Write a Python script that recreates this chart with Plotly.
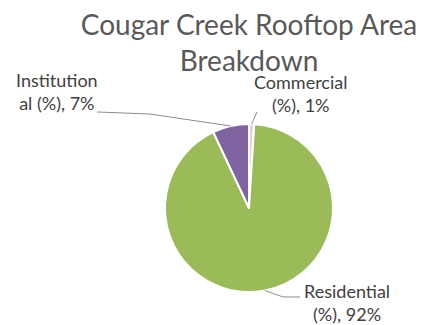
import math
import plotly.graph_objects as go

# Rooftop area shares by land use (clockwise from 12 o'clock)
categories = ["Commercial (%)", "Residential (%)", "Institutional (%)"]
shares = [1, 92, 7]
label_names = ["Commercial<br>(%)", "Residential<br>(%)", "Institution<br>al (%)"]
colors = ["#DCD5E8", "#9BBB59", "#8064A2"]

W, H = 426, 325
CX, CY, R = 249, 208, 84  # pie centre and radius, px from top-left

# label centre and leader-line elbows (px) for each slice
label_layout = {
    "Commercial (%)": dict(text_xy=(300, 93), path=[(257, 112)]),
    "Residential (%)": dict(text_xy=(347, 302), path=[(283, 297), (300, 297)]),
    "Institutional (%)": dict(text_xy=(57, 92), path=[(150, 114), (97, 112)]),
}


def to_paper(x, y):
    return x / W, 1 - y / H


fig = go.Figure(
    go.Pie(
        labels=categories,
        values=shares,
        sort=False,
        direction="clockwise",
        rotation=0,
        marker=dict(colors=colors, line=dict(color="white", width=2)),
        textinfo="none",
        hoverinfo="label+percent",
        domain=dict(x=[(CX - R) / W, (CX + R) / W],
                    y=[1 - (CY + R) / H, 1 - (CY - R) / H]),
        showlegend=False,
    )
)

total = sum(shares)
cum = 0
shapes, annotations = [], []
for cat, name, v in zip(categories, label_names, shares):
    mid = math.radians((cum + v / 2) / total * 360)
    cum += v
    ex, ey = CX + R * math.sin(mid), CY - R * math.cos(mid)
    pts = [(ex, ey)] + label_layout[cat]["path"]
    d = "M " + " L ".join("{:.4f} {:.4f}".format(*to_paper(x, y)) for x, y in pts)
    shapes.append(dict(type="path", path=d, xref="paper", yref="paper",
                       line=dict(color="#8C8C8C", width=1)))
    tx, ty = to_paper(*label_layout[cat]["text_xy"])
    annotations.append(dict(
        text=f"{name}, {v}%", x=tx, y=ty, xref="paper", yref="paper",
        xanchor="center", yanchor="middle", showarrow=False,
        font=dict(family="Lato", size=18, color="#404040"),
    ))

fig.update_layout(
    width=W, height=H,
    margin=dict(l=0, r=0, t=0, b=0),
    paper_bgcolor="white",
    plot_bgcolor="white",
    title=dict(
        text="Cougar Creek Rooftop Area<br>Breakdown",
        x=249 / W, xanchor="center",
        y=1 - 35 / H, yanchor="middle", yref="container",
        font=dict(family="Lato", size=28, color="#595959"),
    ),
    shapes=shapes,
    annotations=annotations,
)

fig.write_html("out.html")
